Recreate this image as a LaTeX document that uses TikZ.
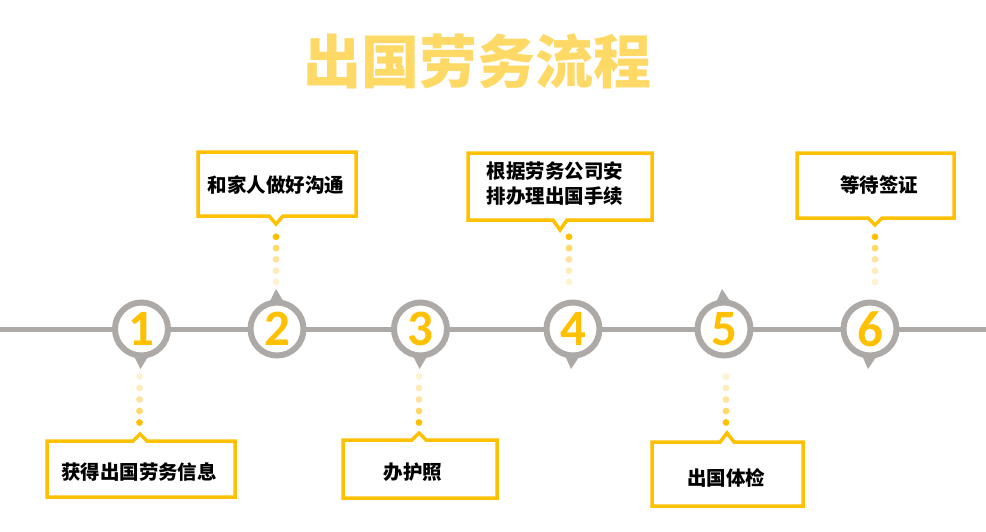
\documentclass[tikz,border=0pt]{standalone}
\usepackage{fontspec}
\newfontfamily\cjk{Noto Sans CJK SC}
\IfFontExistsTF{Noto Sans CJK SC Black}
  {\newfontfamily\titlecjk{Noto Sans CJK SC Black}}
  {\newfontfamily\titlecjk{Noto Sans CJK SC}[UprightFeatures={FakeBold=1.5}]}
\newfontfamily\numfont{Carlito}
\definecolor{gold}{HTML}{FFC000}
\definecolor{ttl}{HTML}{FFD966}
\definecolor{ring}{HTML}{ADA9A7}
\definecolor{dA}{HTML}{FFC000}
\definecolor{dB}{HTML}{FFD966}
\definecolor{dC}{HTML}{FFE39C}
\definecolor{dD}{HTML}{FFECB9}
\definecolor{dE}{HTML}{FFF2D3}
\tikzset{
  stepring/.style={circle, draw=ring, line width=6pt, fill=white, minimum size=53pt,
    inner sep=0pt, font=\numfont\bfseries\fontsize{51}{51}\selectfont, text=gold},
  steplabel/.style={font=\cjk\bfseries\fontsize{19.5}{25}\selectfont, align=center, inner sep=0pt},
  boxline/.style={draw=gold, line width=3.5pt, fill=white, line join=miter},
  timeline/.style={draw=ring, line width=5pt},
  pointer/.style={fill=ring},
  titletext/.style={font=\titlecjk\fontsize{58}{58}\selectfont, text=ttl}
}
% box with notch pointing up: L T R B N tip
\newcommand\calloutup[6]{\path[boxline] (#1,#2) -- ({#5-7},#2) -- (#5,#6) -- ({#5+7},#2) -- (#3,#2) -- (#3,#4) -- (#1,#4) -- cycle;}
% box with notch pointing down
\newcommand\calloutdown[6]{\path[boxline] (#1,#2) -- (#3,#2) -- (#3,#4) -- ({#5+7},#4) -- (#5,#6) -- ({#5-7},#4) -- (#1,#4) -- cycle;}
% dots between circle and a box (pale near circle)
\newcommand\dotsbelow[1]{\foreach \c [count=\i from 0] in {dE,dD,dC,dB,dA} \fill[\c] (#1,{376.5+\i*11.5}) circle (3.4pt);}
\newcommand\dotsabove[1]{\foreach \c [count=\i from 0] in {dE,dD,dC,dB,dA} \fill[\c] (#1,{282-\i*11.3}) circle (3.4pt);}
\begin{document}
\begin{tikzpicture}[x=1pt,y=-1pt]
\fill[white] (0,0) rectangle (986,531);
\useasboundingbox (0,0) rectangle (986,531);

% title
\node[titletext] (title) at (477,61) {出国劳务流程};

% timeline
\coordinate (lineL) at (0,329);
\coordinate (lineR) at (986,329);
\draw[timeline] (lineL) -- (lineR);

% circle centres
\coordinate (p1) at (141.5,329);
\coordinate (p2) at (277,329);
\coordinate (p3) at (420.5,329);
\coordinate (p4) at (573,329);
\coordinate (p5) at (724,329);
\coordinate (p6) at (870,329);

% pointers
\fill[pointer] (p1) ++(-10,22) -- ++(20,0) -- ++(-11,18) -- cycle;
\fill[pointer] (p2) ++(-10,-22) -- ++(20,0) -- ++(-11,-18) -- cycle;
\fill[pointer] (p3) ++(-10,22) -- ++(20,0) -- ++(-11,18) -- cycle;
\fill[pointer] (p4) ++(-10,22) -- ++(20,0) -- ++(-12,18) -- cycle;
\fill[pointer] (p5) ++(-10,-22) -- ++(20,0) -- ++(-12,-18) -- cycle;
\fill[pointer] (p6) ++(-10,22) -- ++(20,0) -- ++(-12,18) -- cycle;

% circles
\node[stepring] (c1) at (p1) {1};
\node[stepring] (c2) at (p2) {2};
\node[stepring] (c3) at (p3) {3};
\node[stepring] (c4) at (p4) {4};
\node[stepring] (c5) at (p5) {5};
\node[stepring] (c6) at (p6) {6};

% dots
\dotsbelow{139.5}
\dotsabove{276}
\dotsbelow{419}
\dotsabove{569}
\dotsbelow{726}
\dotsabove{875}

% boxes
\calloutup{47}{441}{235}{497}{140}{434}
\calloutdown{198}{152}{356}{216}{276}{224}
\calloutup{343}{440}{497}{498}{419}{433}
\calloutdown{468}{153}{652}{220}{560}{230}
\calloutup{652}{442}{803}{506}{727}{433}
\calloutdown{797}{153}{954}{218}{875}{225}

% labels
\node[steplabel] (t1) at (139,472) {获得出国劳务信息};
\node[steplabel] (t2) at (276,185) {和家人做好沟通};
\node[steplabel] (t3) at (413,472) {办护照};
\node[steplabel] (t4) at (555,184) {根据劳务公司安\\排办理出国手续};
\node[steplabel] (t5) at (726,478) {出国体检};
\node[steplabel] (t6) at (879,185) {等待签证};
\end{tikzpicture}
\end{document}
